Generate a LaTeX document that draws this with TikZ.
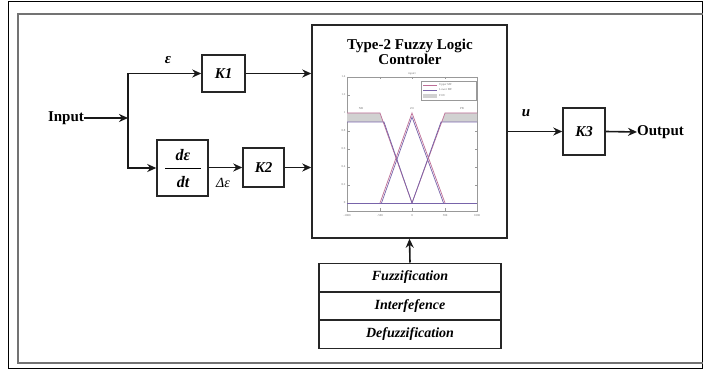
\documentclass[tikz,border=0pt]{standalone}
\usepackage{fontspec}
\setmainfont{Liberation Serif}
\usetikzlibrary{arrows.meta}
\definecolor{mfup}{RGB}{190,110,150}
\definecolor{mflo}{RGB}{120,100,170}
\tikzset{
  conn/.style={line width=1.6pt, draw=black!90, -{Stealth[length=9pt,width=8pt]}},
  blk/.style={draw=black!85, line width=1.5pt, fill=white, inner sep=0pt,
    font=\fontsize{15}{17}\selectfont\bfseries\itshape},
  lbl/.style={inner sep=0pt, font=\fontsize{15}{17}\selectfont\bfseries},
  ilbl/.style={inner sep=0pt, font=\fontsize{16}{18}\selectfont\bfseries\itshape},
  rowbox/.style={draw=black!85, line width=1.5pt, minimum width=182pt, minimum height=28.5pt,
    inner sep=0pt, font=\fontsize{14}{16}\selectfont\bfseries\itshape},
  tiny/.style={inner sep=0pt, font=\fontsize{3}{3.5}\selectfont, text=black!55},
  axisline/.style={draw=black!40, line width=0.5pt},
  upmf/.style={draw=mfup, line width=0.7pt},
  lomf/.style={draw=mflo, line width=0.7pt},
}
\begin{document}
\begin{tikzpicture}[x=1pt,y=-1pt]
\useasboundingbox (0,0) rectangle (703,371);
\clip (0,0) rectangle (703,371);
\fill[white] (0,0) rectangle (703,371);
% frames
\draw[black, line width=0.9pt] (8,1) rectangle (702,368);
\draw[black!55, line width=2.6pt] (18,14) rectangle (712,363);

% nodes
\node[lbl] (input) at (66,118) {Input};
\coordinate (j) at (128,118);
\node[blk, minimum width=43pt, minimum height=37pt] (k1) at (223.5,73.5) {K1};
\node[blk, minimum width=51pt, minimum height=56pt] (deriv) at (182.5,168) {};
\node[ilbl] (dnum) at (183,155) {dε};
\node[ilbl] (dden) at (183,182) {dt};
\coordinate (fl1) at (165,168);
\coordinate (fl2) at (201,168);
\node[blk, minimum width=41pt, minimum height=39pt] (k2) at (263.5,167.5) {K2};
\node[blk, minimum width=195pt, minimum height=213pt] (flc) at (409.5,131.5) {};
\node[lbl, align=center] (title) at (410,52) {Type-2 Fuzzy Logic\\[-2pt]Controler};
\node[blk, minimum width=42pt, minimum height=47pt] (k3) at (584,131.5) {K3};
\node[lbl, anchor=west] (output) at (637,132) {Output};
\node[ilbl, font=\fontsize{15}{17}\selectfont\bfseries\itshape] (eps) at (168,60) {ε};
\node[ilbl, font=\fontsize{14}{16}\selectfont\itshape] (deps) at (223,183) {Δε};
\node[ilbl, font=\fontsize{15}{17}\selectfont\bfseries\itshape] (u) at (526,113) {u};
\node[rowbox] (fuz) at (410,277.5) {Fuzzification};
\node[rowbox] (inf) at (410,305.75) {Interfefence};
\node[rowbox] (def) at (410,334.25) {Defuzzification};

% connectors
\draw[conn] (input.east) -- (j);
\draw[conn] (j) |- (k1.west);
\draw[conn] (j) |- (deriv.west);
\draw[line width=0.9pt] (fl1) -- (fl2);
\draw[conn] (deriv.east |- k2.west) -- (k2.west);
\draw[conn] (k1.east) -- (k1.east -| flc.west);
\draw[conn] (k2.east) -- (k2.east -| flc.west);
\draw[conn] (flc.east |- k3.west) -- (k3.west);
\draw[conn] (k3.east) -- (output.west);
\draw[conn] (fuz.north) -- (flc.south);

% embedded membership-function plot
\draw[axisline] (347,77) rectangle (477,211);
\foreach \yy/\ll in {77/1.4, 95/1.2, 113/1, 131/0.8, 149/0.6, 167/0.4, 185/0.2, 203/0}{
  \draw[axisline] (347,\yy) -- (349.5,\yy);
  \draw[axisline] (477,\yy) -- (474.5,\yy);
  \node[tiny, anchor=east] at (345.5,\yy) {\ll};
}
\foreach \xx/\ll in {347/-1000, 380/-500, 412/0, 445/500, 477/1000}{
  \draw[axisline] (\xx,211) -- (\xx,208.5);
  \draw[axisline] (\xx,77) -- (\xx,79.5);
  \node[tiny] at (\xx,215.5) {\ll};
}
\node[tiny] at (412,74) {input1};
\fill[black!18] (347,113) -- (380,113) -- (412,203) -- (384,122) -- (347,122) -- cycle;
\fill[black!18] (477,113) -- (445,113) -- (412,203) -- (441,122) -- (477,122) -- cycle;
\draw[upmf] (347,113) -- (380,113) -- (412,203);
\draw[lomf] (347,122) -- (384,122) -- (412,203);
\draw[upmf] (477,113) -- (445,113) -- (412,203);
\draw[lomf] (477,122) -- (441,122) -- (412,203);
\draw[upmf] (380,203) -- (412,113) -- (445,203);
\draw[lomf] (381.5,203) -- (412,117) -- (443.5,203);
\draw[lomf] (347,203) -- (477,203);
\node[tiny] at (361,108.5) {NB};
\node[tiny] at (412,108.5) {ZO};
\node[tiny] at (462,108.5) {PB};
\draw[axisline, fill=white] (421,81) rectangle (476,100);
\fill[black!18] (423,94.5) rectangle (437,98);
\draw[upmf] (423,85) -- (437,85);
\draw[lomf] (423,90) -- (437,90);
\node[tiny, anchor=west] at (439,85) {Upper MF};
\node[tiny, anchor=west] at (439,90) {Lower MF};
\node[tiny, anchor=west] at (439,96) {FOU};
\end{tikzpicture}
\end{document}
